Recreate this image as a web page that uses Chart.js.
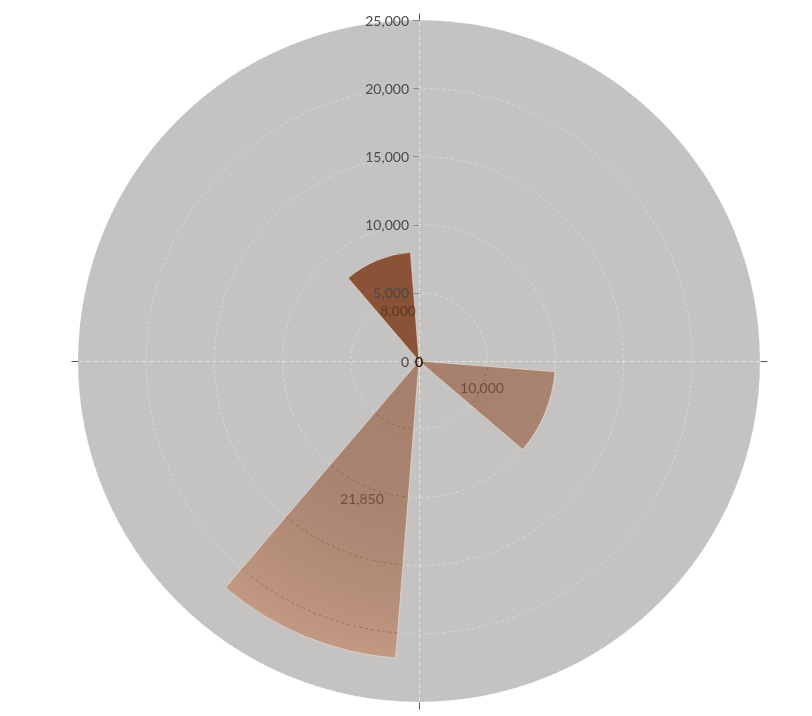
<!DOCTYPE html>
<html>
<head>
<meta charset="utf-8">
<script src="https://cdn.jsdelivr.net/npm/chart.js@4/dist/chart.umd.min.js"></script>
<style>
  html, body { margin: 0; padding: 0; background: #ffffff; }
  #wrap { width: 812px; height: 716px; }
</style>
</head>
<body>
<div id="wrap"><canvas id="c" width="812" height="716"></canvas></div>
<script>
// ---- data ----
const categories = ['Category 1', 'Category 2', 'Category 3', 'Category 4'];
const seriesA = [0, 10000, 21850, 0];     // lighter, gradient bars (first half of each category)
const seriesB = [0, 0, 0, 8000];          // dark brown bars (second half of each category)
const radialTicks = [0, 5000, 10000, 15000, 20000, 25000];
const radialMax = 25000;

// ---- build the arc table from the arrays ----
const BAR_DEG = 36, GAP_DEG = 9;
const values = [], kinds = [], angles = [], labels = [];
categories.forEach((cat, i) => {
  values.push(seriesA[i]); kinds.push('A'); angles.push(BAR_DEG); labels.push(cat + ' A');
  values.push(0);          kinds.push('gap'); angles.push(GAP_DEG); labels.push('');
  values.push(seriesB[i]); kinds.push('B'); angles.push(BAR_DEG); labels.push(cat + ' B');
  values.push(0);          kinds.push('gap'); angles.push(GAP_DEG); labels.push('');
});

const fmt = v => v.toLocaleString('en-US');
const FONT = 'Lato, "Open Sans", sans-serif';

let gradCache = null;
function gradientFor(chart) {
  const r = chart.scales.r;
  if (!r || !isFinite(r.xCenter)) return '#AE8874';
  const key = r.xCenter + ',' + r.yCenter + ',' + r.drawingArea;
  if (gradCache && gradCache.key === key) return gradCache.g;
  const g = chart.ctx.createRadialGradient(r.xCenter, r.yCenter, 0, r.xCenter, r.yCenter, r.drawingArea);
  g.addColorStop(0, '#A57F6C');
  g.addColorStop(0.45, '#A98471');
  g.addColorStop(0.7, '#B58E79');
  g.addColorStop(0.88, '#C29982');
  g.addColorStop(1, '#C69D86');
  gradCache = { key, g };
  return g;
}

const overlayPlugin = {
  id: 'overlay',
  beforeDatasetsDraw(chart) {
    const r = chart.scales.r, ctx = chart.ctx;
    const cx = r.xCenter, cy = r.yCenter, R = r.drawingArea;
    ctx.save();
    // angle axis split lines at 0/90/180/270 degrees
    ctx.strokeStyle = 'rgba(255,255,255,0.5)';
    ctx.lineWidth = 1;
    ctx.setLineDash([4, 3]);
    for (let k = 0; k < 4; k++) {
      const a = k * Math.PI / 2 - Math.PI / 2;
      ctx.beginPath();
      ctx.moveTo(cx + 0.5, cy + 0.5);
      ctx.lineTo(cx + 0.5 + Math.cos(a) * R, cy + 0.5 + Math.sin(a) * R);
      ctx.stroke();
    }
    ctx.setLineDash([]);
    ctx.strokeStyle = '#555';
    for (let k = 0; k < 4; k++) {
      const a = k * Math.PI / 2 - Math.PI / 2;
      ctx.beginPath();
      ctx.moveTo(cx + 0.5 + Math.cos(a) * R, cy + 0.5 + Math.sin(a) * R);
      ctx.lineTo(cx + 0.5 + Math.cos(a) * (R + 7), cy + 0.5 + Math.sin(a) * (R + 7));
      ctx.stroke();
    }
    ctx.restore();
  },
  afterDatasetsDraw(chart) {
    const r = chart.scales.r, ctx = chart.ctx;
    const cx = r.xCenter, cy = r.yCenter;
    const meta = chart.getDatasetMeta(0);
    ctx.save();
    // darker dashed grid arcs visible through the lighter bars
    meta.data.forEach((arc, i) => {
      if (kinds[i] !== 'A' || values[i] <= 0) return;
      const p = arc.getProps(['x', 'y', 'startAngle', 'endAngle', 'outerRadius']);
      ctx.save();
      ctx.beginPath();
      ctx.moveTo(p.x, p.y);
      ctx.arc(p.x, p.y, p.outerRadius - 1, p.startAngle, p.endAngle);
      ctx.closePath();
      ctx.clip();
      ctx.strokeStyle = 'rgba(110,75,58,0.45)';
      ctx.lineWidth = 1;
      ctx.setLineDash([3, 3]);
      radialTicks.forEach(t => {
        if (t === 0) return;
        const d = r.getDistanceFromCenterForValue(t);
        ctx.beginPath();
        ctx.arc(p.x, p.y, d, 0, Math.PI * 2);
        ctx.stroke();
      });
      ctx.restore();
    });
    // radial tick labels and tick marks
    ctx.font = '14px ' + FONT;
    ctx.textAlign = 'right';
    ctx.textBaseline = 'middle';
    radialTicks.forEach(t => {
      const y = cy - r.getDistanceFromCenterForValue(t);
      ctx.fillStyle = '#4a4a4a';
      ctx.fillText(fmt(t), cx - 10, y + 1);
      ctx.strokeStyle = '#8a8a8a';
      ctx.lineWidth = 1;
      ctx.beginPath();
      ctx.moveTo(cx - 6, Math.round(y) + 0.5);
      ctx.lineTo(cx, Math.round(y) + 0.5);
      ctx.stroke();
    });
    // data labels at the middle of each bar
    ctx.textAlign = 'center';
    ctx.fillStyle = 'rgba(50,28,16,0.5)';
    meta.data.forEach((arc, i) => {
      if (kinds[i] === 'gap') return;
      const p = arc.getProps(['x', 'y', 'startAngle', 'endAngle', 'outerRadius']);
      const mid = (p.startAngle + p.endAngle) / 2;
      const rr = p.outerRadius / 2;
      ctx.fillText(fmt(values[i]), p.x + Math.cos(mid) * rr, p.y + Math.sin(mid) * rr + 1);
    });
    ctx.restore();
  }
};

new Chart(document.getElementById('c'), {
  type: 'polarArea',
  data: {
    labels: labels,
    datasets: [{
      data: values,
      angle: ctx => angles[ctx.dataIndex],
      backgroundColor: ctx => {
        const k = kinds[ctx.dataIndex];
        if (k === 'A') return gradientFor(ctx.chart);
        if (k === 'B') return '#8A5236';
        return 'rgba(0,0,0,0)';
      },
      borderColor: 'rgba(245,230,220,0.55)',
      borderWidth: ctx => (kinds[ctx.dataIndex] === 'gap' ? 0 : 1)
    }]
  },
  options: {
    responsive: false,
    animation: false,
    layout: { padding: { left: 78, right: 52, top: 20, bottom: 14 } },
    plugins: { legend: { display: false }, tooltip: { enabled: false } },
    scales: {
      r: {
        min: 0,
        max: radialMax,
        startAngle: (GAP_DEG / 2),
        backgroundColor: '#C4C3C1',
        ticks: { display: false, stepSize: 5000 },
        pointLabels: { display: false },
        angleLines: { display: false },
        grid: { display: true, circular: true, color: 'rgba(255,255,255,0.32)', lineWidth: 1 },
        border: { dash: [3, 3] }
      }
    }
  },
  plugins: [overlayPlugin]
});
</script>
</body>
</html>
